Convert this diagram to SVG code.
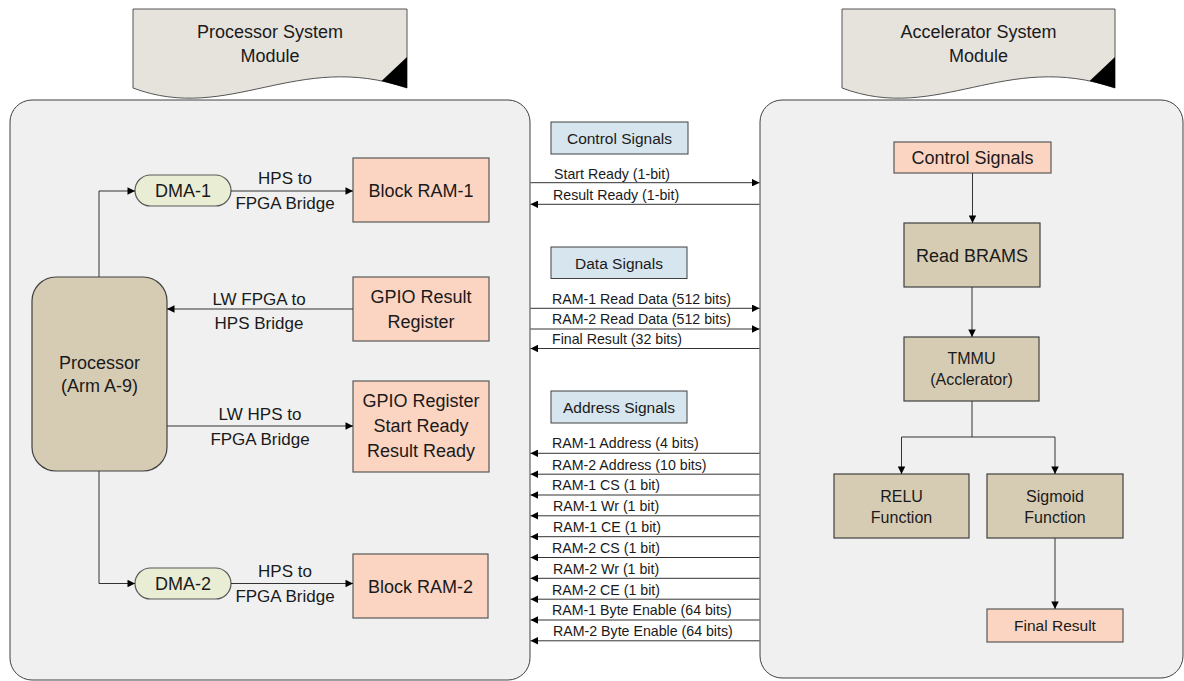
<svg xmlns="http://www.w3.org/2000/svg" width="1184" height="681" viewBox="0 0 1184 681">
<defs>
<marker id="ah" viewBox="0 0 10 10" refX="10" refY="5" markerWidth="8.5" markerHeight="7.5" markerUnits="userSpaceOnUse" orient="auto"><path d="M0,0 L10,5 L0,10 z" fill="#000"/></marker>
</defs>
<style>
text{font-family:"Liberation Sans",Arial,sans-serif;fill:#1a1a1a;text-anchor:middle}
.cont{fill:#f0f0f0;stroke:#404040;stroke-width:1}
.ban{fill:#e6e3dd;stroke:#555;stroke-width:1}
.peach{fill:#fbd5c1;stroke:#595959;stroke-width:1.2}
.tan{fill:#d6ccb4;stroke:#404040;stroke-width:1.2}
.green{fill:#e9edd4;stroke:#595959;stroke-width:1.2}
.blue{fill:#d6e5ee;stroke:#404040;stroke-width:1}
.t18{font-size:18px}
.t17{font-size:17px}
.t16{font-size:16px}
.t155{font-size:15.5px}
.sig{font-size:14.2px;text-anchor:start}
.ln{fill:none;stroke:#333;stroke-width:1}
.la{fill:none;stroke:#333;stroke-width:1;marker-end:url(#ah)}
</style>

<g id="processor-module">
<rect class="cont" x="10" y="100" width="520" height="580" rx="22"/>
</g>
<g id="accelerator-module">
<rect class="cont" x="760" y="100" width="423" height="578" rx="22"/>
</g>

<g id="banner-processor">
<path class="ban" d="M133,9 H407 V88 C297.4,50 228.9,124 133,88 Z"/>
<path d="M381.5,81 L407,88 L407,57 Z" fill="#000"/>
<text class="t18" x="270" y="38">Processor System</text>
<text class="t18" x="270" y="62">Module</text>
</g>
<g id="banner-accelerator">
<path class="ban" d="M842,9 H1115 V88 C1005.8,50 937.6,124 842,88 Z"/>
<path d="M1089.6,81 L1115,88 L1115,57 Z" fill="#000"/>
<text class="t18" x="978.5" y="38">Accelerator System</text>
<text class="t18" x="978.5" y="62">Module</text>
</g>

<g id="dma1"><rect class="green" x="135" y="175" width="96" height="31" rx="15.5"/><text class="t18" x="183" y="197">DMA-1</text></g>
<g id="bram1"><rect class="peach" x="353" y="158" width="136" height="64"/><text class="t18" x="421" y="196.5">Block RAM-1</text></g>
<g id="processor"><rect class="tan" x="32" y="277" width="135" height="194" rx="24"/><text class="t18" x="99.5" y="368.5">Processor</text><text class="t18" x="99.5" y="392">(Arm A-9)</text></g>
<g id="gpio-result"><rect class="peach" x="353" y="277" width="136" height="64"/><text class="t18" x="421" y="302.5">GPIO Result</text><text class="t18" x="421" y="327.5">Register</text></g>
<g id="gpio-register"><rect class="peach" x="353" y="381" width="136" height="91"/><text class="t18" x="421" y="407">GPIO Register</text><text class="t18" x="421" y="432">Start Ready</text><text class="t18" x="421" y="457">Result Ready</text></g>
<g id="dma2"><rect class="green" x="135" y="568" width="96" height="31" rx="15.5"/><text class="t18" x="183" y="590">DMA-2</text></g>
<g id="bram2"><rect class="peach" x="353" y="554" width="135" height="64"/><text class="t18" x="420.5" y="592.5">Block RAM-2</text></g>

<g id="hdr-control"><rect class="blue" x="551" y="122" width="137" height="32"/><text class="t155" x="619.5" y="144">Control Signals</text></g>
<g id="hdr-data"><rect class="blue" x="551" y="247" width="136" height="31.5"/><text class="t155" x="619" y="268.5">Data Signals</text></g>
<g id="hdr-address"><rect class="blue" x="551" y="391" width="136" height="32"/><text class="t155" x="619" y="413">Address Signals</text></g>

<g id="acc-control"><rect class="peach" x="894" y="142" width="157" height="31"/><text class="t18" x="972.5" y="164">Control Signals</text></g>
<g id="read-brams"><rect class="tan" x="904" y="223" width="136" height="64"/><text class="t18" x="972" y="261.5">Read BRAMS</text></g>
<g id="tmmu"><rect class="tan" x="904" y="337" width="135" height="64"/><text class="t16" x="971.5" y="364">TMMU</text><text class="t16" x="971.5" y="385">(Acclerator)</text></g>
<g id="relu"><rect class="tan" x="834" y="474" width="135" height="64"/><text class="t16" x="901.5" y="501.5">RELU</text><text class="t16" x="901.5" y="522.5">Function</text></g>
<g id="sigmoid"><rect class="tan" x="987" y="474" width="136" height="64"/><text class="t16" x="1055" y="501.5">Sigmoid</text><text class="t16" x="1055" y="522.5">Function</text></g>
<g id="final-result"><rect class="peach" x="987" y="609" width="136" height="33"/><text class="t155" x="1055" y="631">Final Result</text></g>

<g id="connectors">
<path class="la" d="M99,277 V191 H135"/>
<path class="la" d="M231,191 H353"/>
<path class="la" d="M353,309 H167"/>
<path class="la" d="M167,426 H353"/>
<path class="la" d="M99,471 V583.5 H135"/>
<path class="la" d="M231,583.5 H353"/>
<text class="t17" x="285" y="183.5">HPS to</text>
<text class="t17" x="285" y="208.5">FPGA Bridge</text>
<text class="t17" x="259" y="305">LW FPGA to</text>
<text class="t17" x="259" y="329">HPS Bridge</text>
<text class="t17" x="260" y="420">LW HPS to</text>
<text class="t17" x="260" y="444.5">FPGA Bridge</text>
<text class="t17" x="285" y="577">HPS to</text>
<text class="t17" x="285" y="602">FPGA Bridge</text>

<path class="la" d="M530.5,182.7 H759.5"/>
<path class="la" d="M759.5,204.3 H530.5"/>
<text class="sig" x="554" y="179">Start Ready (1-bit)</text>
<text class="sig" x="553" y="200">Result Ready (1-bit)</text>

<path class="la" d="M530.5,308.3 H759.5"/>
<path class="la" d="M530.5,329 H759.5"/>
<path class="la" d="M759.5,348.5 H530.5"/>
<text class="sig" x="552" y="303.5">RAM-1 Read Data (512 bits)</text>
<text class="sig" x="552" y="324">RAM-2 Read Data (512 bits)</text>
<text class="sig" x="552" y="344">Final Result (32 bits)</text>

<path class="la" d="M759.5,453.3 H530.5"/>
<path class="la" d="M759.5,474.2 H530.5"/>
<path class="la" d="M759.5,495 H530.5"/>
<path class="la" d="M759.5,515.8 H530.5"/>
<path class="la" d="M759.5,536.7 H530.5"/>
<path class="la" d="M759.5,557.5 H530.5"/>
<path class="la" d="M759.5,578.3 H530.5"/>
<path class="la" d="M759.5,599.2 H530.5"/>
<path class="la" d="M759.5,620 H530.5"/>
<path class="la" d="M759.5,640.8 H530.5"/>
<text class="sig" x="552" y="448.3">RAM-1 Address (4 bits)</text>
<text class="sig" x="552" y="469.5">RAM-2 Address (10 bits)</text>
<text class="sig" x="552" y="490">RAM-1 CS (1 bit)</text>
<text class="sig" x="553" y="511">RAM-1 Wr (1 bit)</text>
<text class="sig" x="553" y="532">RAM-1 CE (1 bit)</text>
<text class="sig" x="552" y="552.5">RAM-2 CS (1 bit)</text>
<text class="sig" x="553" y="573.5">RAM-2 Wr (1 bit)</text>
<text class="sig" x="552" y="594.5">RAM-2 CE (1 bit)</text>
<text class="sig" x="552" y="615">RAM-1 Byte Enable (64 bits)</text>
<text class="sig" x="553" y="636">RAM-2 Byte Enable (64 bits)</text>

<path class="la" d="M972.5,173 V223"/>
<path class="la" d="M972,287 V337"/>
<path class="la" d="M972,401 V437 H901.5 V474"/>
<path class="la" d="M972,437 H1055 V474"/>
<path class="la" d="M1055,538 V609"/>
</g>
</svg>
